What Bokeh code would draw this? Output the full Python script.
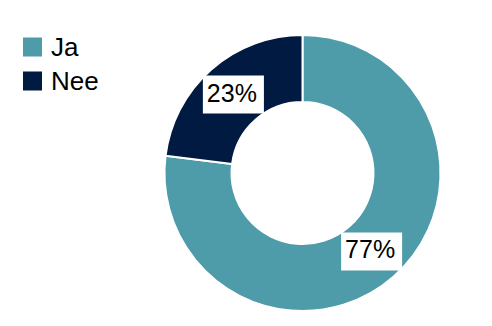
import math
from bokeh.plotting import figure
from bokeh.models import ColumnDataSource
from bokeh.core.properties import value
from bokeh.embed import file_html
from bokeh.resources import INLINE

categories = ["Ja", "Nee"]
shares = [77, 23]
colors = ["#4E9BA9", "#001A42"]
labels = ["77%", "23%"]

W, H = 492, 326
cx, cy = 302, 326 - 172.5
r_out, r_in = 138, 71

total = sum(shares)
starts, ends, lx, ly = [], [], [], []
a = math.pi / 2
for s in shares:
    sweep = 2 * math.pi * s / total
    starts.append(a - sweep)
    ends.append(a)
    mid = a - sweep / 2
    rm = (r_out + r_in) / 2
    lx.append(cx + rm * math.cos(mid))
    ly.append(cy + rm * math.sin(mid))
    a -= sweep

src = ColumnDataSource(dict(cat=categories, start=starts, end=ends, color=colors,
                            lx=lx, ly=ly, label=labels, x=[cx] * 2, y=[cy] * 2))

p = figure(width=W, height=H, x_range=(0, W), y_range=(0, H),
           output_backend="svg", toolbar_location=None, min_border=0,
           match_aspect=False)
p.axis.visible = False
p.grid.visible = False
p.outline_line_color = None
p.background_fill_color = "white"

p.annular_wedge(x="x", y="y", inner_radius=r_in, outer_radius=r_out,
                start_angle="start", end_angle="end", source=src,
                fill_color="color", line_color="white", line_width=2)

p.text(x="lx", y="ly", text="label", source=src, text_align="center",
       text_baseline="middle", text_font=value("Liberation Sans"),
       text_font_size="25px", text_color="black",
       background_fill_color="white", padding=[4, 7, 3, 7])

# legend (top-left), one row per category
leg_x = 32
leg_y_top = 326 - 46.5
leg_step = 34
leg_src = ColumnDataSource(dict(
    cat=categories, color=colors,
    x=[leg_x] * len(categories),
    y=[leg_y_top - i * leg_step for i in range(len(categories))],
    tx=[leg_x + 18.5] * len(categories),
))
p.scatter(x="x", y="y", marker="square", size=19, source=leg_src,
          fill_color="color", line_color=None)
p.text(x="tx", y="y", text="cat", source=leg_src, text_align="left",
       text_baseline="middle", text_font=value("Liberation Sans"),
       text_font_size="26px", text_color="black")

open("out.html", "w").write(file_html(p, INLINE))
